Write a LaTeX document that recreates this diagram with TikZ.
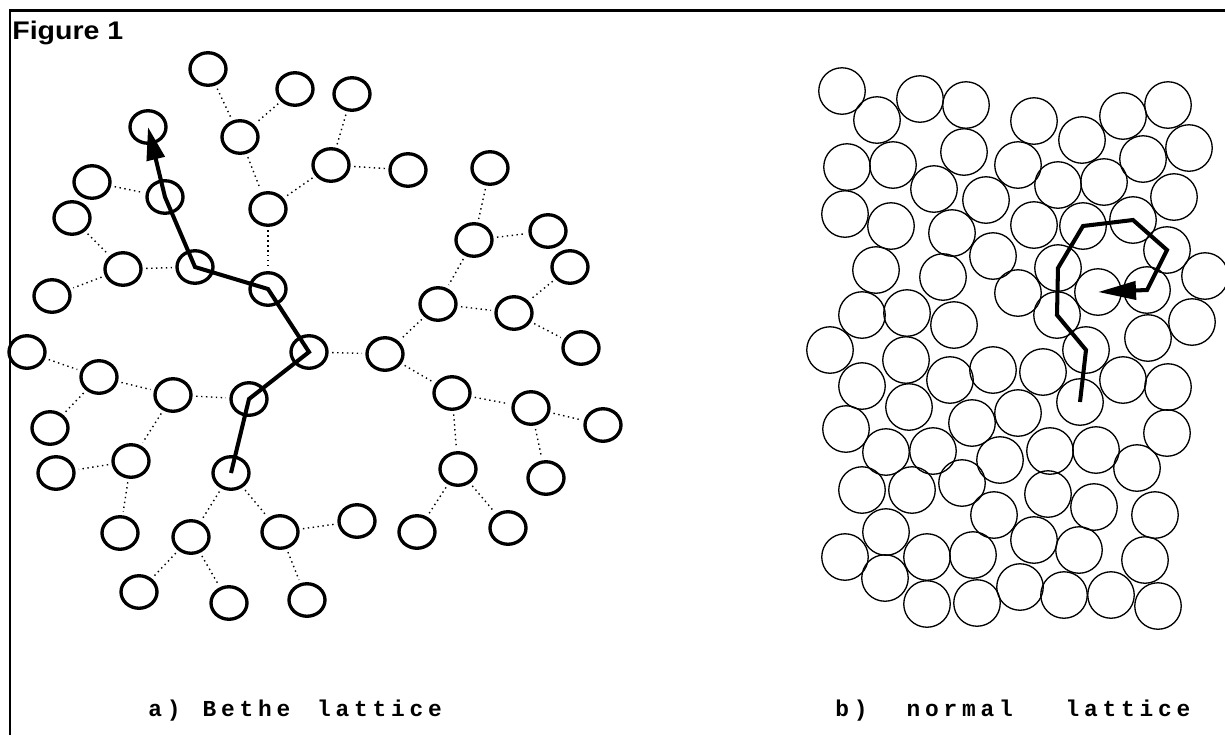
\documentclass[tikz,border=0pt]{standalone}
\usepackage{fontspec}
\usepackage{tikz}
\usetikzlibrary{arrows.meta, positioning, shapes.geometric}
\newfontfamily\figfont[FakeStretch=1.12]{Liberation Sans}
\newfontfamily\capfont[LetterSpace=21]{Liberation Mono}

\begin{document}
\begin{tikzpicture}[x=0.02cm, y=-0.02cm,
      site/.style={ellipse, draw, line width=1.9pt, minimum width=7.2mm,
        minimum height=6.5mm, inner sep=0pt},
      grain/.style={circle, draw, line width=0.75pt, minimum size=9.3mm, inner sep=0pt},
      bond/.style={dotted, line width=0.8pt, shorten >=2pt, shorten <=2pt},
      walk/.style={line width=2.3pt},
      captext/.style={anchor=base west, inner sep=0pt,
        font=\capfont\bfseries\fontsize{13}{15}\selectfont}
    ]
      \useasboundingbox (0,0) rectangle (1225,735);
      % frame and title
      \draw[line width=1.7pt] (10,735) -- (10,10) -- (1225,10);
      \node[anchor=base west, inner sep=0pt, font=\figfont\bfseries\fontsize{14.5}{16}\selectfont]
        (title) at (12,39) {Figure 1};

      % a) Bethe lattice
      \node[site] (s1) at (208,69) {};
      \node[site] (s2) at (295,89) {};
      \node[site] (s3) at (352,94) {};
      \node[site] (s4) at (148,127) {};
      \node[site] (s5) at (240,137) {};
      \node[site] (s6) at (331,165) {};
      \node[site] (s7) at (408,170) {};
      \node[site] (s8) at (490,168) {};
      \node[site] (s9) at (92,182) {};
      \node[site] (s10) at (165,197) {};
      \node[site] (s11) at (268,209) {};
      \node[site] (s12) at (72,218) {};
      \node[site] (s13) at (474,240) {};
      \node[site] (s14) at (548,231) {};
      \node[site] (s15) at (123,269) {};
      \node[site] (s16) at (195,267) {};
      \node[site] (s17) at (268,289) {};
      \node[site] (s18) at (570,267) {};
      \node[site] (s19) at (52,296) {};
      \node[site] (s20) at (438,304) {};
      \node[site] (s21) at (514,313) {};
      \node[site] (s22) at (27,352) {};
      \node[site] (s23) at (309,352) {};
      \node[site] (s24) at (385,354) {};
      \node[site] (s25) at (581,348) {};
      \node[site] (s26) at (99,377) {};
      \node[site] (s27) at (173,395) {};
      \node[site] (s28) at (249,399) {};
      \node[site] (s29) at (452,393) {};
      \node[site] (s30) at (531,408) {};
      \node[site] (s31) at (603,425) {};
      \node[site] (s32) at (50,428) {};
      \node[site] (s33) at (131,461) {};
      \node[site] (s34) at (231,473) {};
      \node[site] (s35) at (458,469) {};
      \node[site] (s36) at (546,478) {};
      \node[site] (s37) at (56,473) {};
      \node[site] (s38) at (120,533) {};
      \node[site] (s39) at (191,537) {};
      \node[site] (s40) at (280,532) {};
      \node[site] (s41) at (357,521) {};
      \node[site] (s42) at (417,532) {};
      \node[site] (s43) at (508,528) {};
      \node[site] (s44) at (139,592) {};
      \node[site] (s45) at (229,603) {};
      \node[site] (s46) at (307,600) {};
      \foreach \a/\b in {s1/s5, s2/s5, s5/s11, s6/s11, s3/s6, s6/s7, s8/s13, s13/s14,
          s13/s20, s18/s21, s20/s21, s21/s25, s20/s24, s23/s24, s24/s29, s11/s17,
          s9/s10, s12/s15, s15/s16, s15/s19, s22/s26, s26/s27, s27/s28, s26/s32,
          s27/s33, s33/s37, s33/s38, s34/s39, s34/s40, s39/s44, s39/s45, s40/s46,
          s40/s41, s29/s35, s29/s30, s30/s31, s30/s36, s35/s42, s35/s43}
        \draw[bond] (\a) -- (\b);
      \draw[walk, -{Triangle[length=6.6mm, width=3.6mm]}] (s34.center) -- (s28.center)
        -- (s23.center) -- (s17.center) -- (s16.center) -- (s10.center) -- (s4.center);

      % b) normal lattice
      \foreach \x/\y [count=\i] in {842/91, 877/120, 920/99, 966/105, 1034/121, 1082/140,
          1123/116, 1168/105, 847/167, 893/165, 964/152, 934/189, 1018/165, 986/200,
          1058/185, 1104/182, 1143/159, 1189/148, 1174/197, 845/214, 891/226, 952/233,
          1034/225, 876/270, 943/277, 993/256, 1205/276, 1018/293, 862/315, 907/313,
          954/325, 1192/322, 1148/338, 830/350, 906/360, 862/386, 950/380, 993/370,
          1043/372, 1123/380, 1168/387, 909/407, 846/429, 972/423, 1018/413, 886/452,
          933/451, 1167/433, 1050/451, 1096/450, 1000/460, 1137/468, 862/490, 912/490,
          962/483, 994/515, 1048/494, 1094/507, 1155/515, 886/532, 845/557, 927/557,
          973/555, 1034/540, 1079/550, 1145/560, 885/578, 927/604, 977/603, 1020/587,
          1064/595, 1111/595, 1158/606}
        \node[grain] (g\i) at (\x,\y) {};
      \node[grain] (w1) at (1080,402) {};
      \node[grain] (w2) at (1086,350) {};
      \node[grain] (w3) at (1057,315) {};
      \node[grain] (w4) at (1058,268) {};
      \node[grain] (w5) at (1083,226) {};
      \node[grain] (w6) at (1133,220) {};
      \node[grain] (w7) at (1167,250) {};
      \node[grain] (w8) at (1147,290) {};
      \node[grain] (w9) at (1098,292) {};
      \draw[walk, -{Triangle[length=7.6mm, width=3.6mm]}] (w1.center) -- (w2.center)
        -- (w3.center) -- (w4.center) -- (w5.center) -- (w6.center) -- (w7.center)
        -- (w8.center) -- (w9.center);

      % captions
      \node[captext] (capa) at (148,716) {a)\hspace{4.4mm}Bethe\hspace{5.4mm}lattice};
      \node[captext] (capb) at (835,716) {b)\hspace{7.8mm}normal\hspace{10.6mm}lattice};
    \end{tikzpicture}
\end{document}
